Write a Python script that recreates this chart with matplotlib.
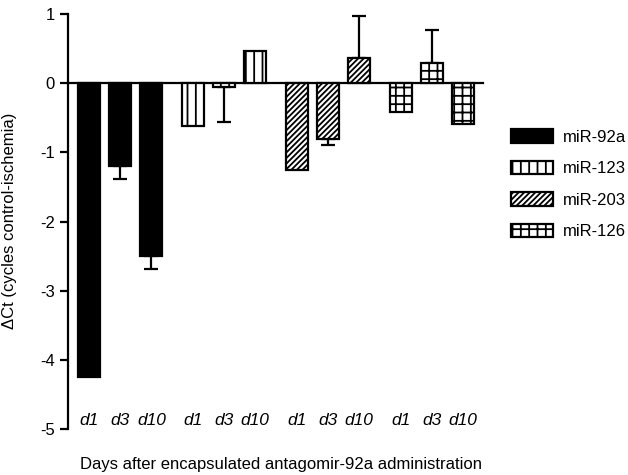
import numpy as np
import matplotlib.pyplot as plt
from matplotlib.patches import Patch

plt.rcParams['font.family'] = ['Liberation Sans', 'DejaVu Sans']
plt.rcParams['hatch.linewidth'] = 1.3
plt.rcParams['axes.unicode_minus'] = False

genes = ['miR-92a', 'miR-123', 'miR-203', 'miR-126']
days = ['d1', 'd3', 'd10']
values = {
    'miR-92a': [-4.25, -1.20, -2.50],
    'miR-123': [-0.62, -0.06, 0.46],
    'miR-203': [-1.26, -0.80, 0.36],
    'miR-126': [-0.42, 0.29, -0.59],
}
errors = {
    'miR-92a': [0.0, 0.19, 0.19],
    'miR-123': [0.0, 0.50, 0.0],
    'miR-203': [0.0, 0.10, 0.61],
    'miR-126': [0.0, 0.48, 0.0],
}
colors = {'miR-92a': 'black', 'miR-123': 'white', 'miR-203': 'white', 'miR-126': 'white'}
hatches = {'miR-92a': None, 'miR-123': '||', 'miR-203': '//////', 'miR-126': '++'}

fig = plt.figure(figsize=(6.28, 4.75), dpi=100)
ax = fig.add_axes([68/628, 1 - 429/475, (483 - 68)/628, (429 - 14)/475])

group_step = 3.34
width = 0.71
handles = []
for g, gene in enumerate(genes):
    x = g * group_step + np.arange(3)
    v = np.array(values[gene])
    e = np.array(errors[gene])
    ax.bar(x, v, width, color=colors[gene], edgecolor='black', linewidth=1.6,
           hatch=hatches[gene], zorder=3)
    m = e > 0
    lo = np.where(v < 0, e, 0)[m]
    hi = np.where(v >= 0, e, 0)[m]
    ax.errorbar(x[m], v[m], yerr=[lo, hi], fmt='none', ecolor='black',
                elinewidth=1.6, capsize=5, capthick=1.6, zorder=2)
    for xi, d in zip(x, days):
        ax.text(xi, -4.87, d, ha='center', va='center', style='italic', fontsize=12.5)
    handles.append(Patch(facecolor=colors[gene], edgecolor='black', linewidth=1.6,
                         hatch=hatches[gene], label=gene))

ax.set_xlim(-0.68, 12.66)
ax.set_ylim(-5, 1)
ax.set_yticks(np.arange(-5, 2, 1))
ax.tick_params(axis='y', labelsize=12, width=1.6, length=6, direction='out')
ax.set_xticks([])
ax.spines['top'].set_visible(False)
ax.spines['right'].set_visible(False)
ax.spines['bottom'].set_position(('data', 0))
ax.spines['bottom'].set_linewidth(1.6)
ax.spines['left'].set_linewidth(1.6)

fig.text(10/628, 1 - 221/475, '\u0394Ct (cycles control-ischemia)', rotation=90,
         ha='center', va='center', fontsize=12)
fig.text(281/628, 1 - 465/475, 'Days after encapsulated antagomir-92a administration',
         ha='center', va='center', fontsize=12)

fig.legend(handles=handles, loc='upper left', bbox_to_anchor=(511/628, 1 - 129/475),
           frameon=False, fontsize=12, handlelength=2.5, handleheight=0.9,
           labelspacing=0.95, borderpad=0, borderaxespad=0, handletextpad=0.6)

fig.savefig('out.png', dpi=100)
